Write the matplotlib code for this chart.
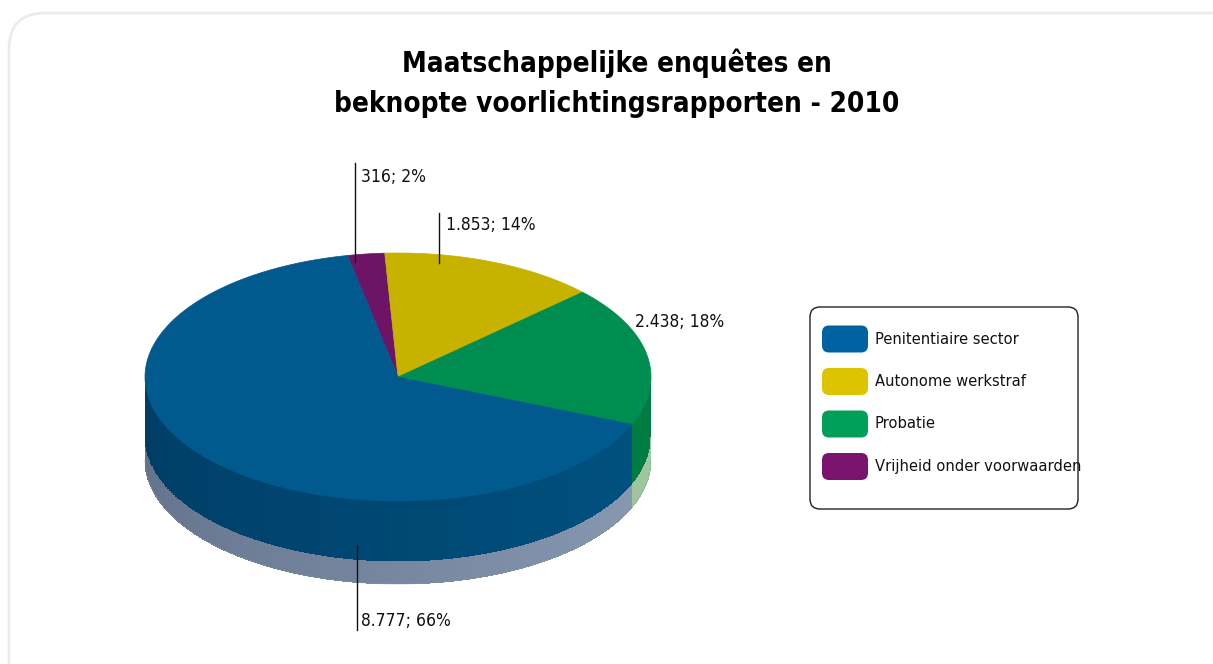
import numpy as np
import matplotlib
matplotlib.use("Agg")
import matplotlib.pyplot as plt
from matplotlib.patches import Polygon, FancyBboxPatch

# ---- data ----
categories = ["Penitentiaire sector", "Autonome werkstraf", "Probatie",
              "Vrijheid onder voorwaarden"]
values = [8777, 1853, 2438, 316]
title_lines = ["Maatschappelijke enquêtes en",
               "beknopte voorlichtingsrapporten - 2010"]

# ---- styling ----
top_colors = ["#005a8e", "#c8b200", "#008d50", "#6e1466"]
legend_colors = ["#0062a0", "#dcc400", "#00a05a", "#7a146e"]
wall_left = [(0, 60, 100), (150, 130, 0), (0, 100, 55), (80, 10, 70)]
wall_right = [(0, 84, 132), (180, 160, 0), (0, 126, 68), (100, 16, 90)]
band_left = [(98, 112, 138), (190, 180, 120), (140, 180, 140), (150, 120, 150)]
band_right = [(140, 158, 182), (210, 200, 140), (160, 200, 160), (170, 140, 170)]
slice_order = [3, 1, 2, 0]      # clockwise drawing order
start_angle = 101.5             # degrees, counter-clockwise from 3 o'clock

FONT = ["DejaVu Sans"]
STRETCH = "condensed"

W, H = 1213, 664
fig = plt.figure(figsize=(W / 100, H / 100), dpi=100)
ax = fig.add_axes([0, 0, 1, 1])
ax.set_xlim(0, W)
ax.set_ylim(H, 0)
ax.axis("off")

# outer rounded frame
ax.add_patch(FancyBboxPatch((9, 13), W + 40, H + 40,
                            boxstyle="round,pad=0,rounding_size=36",
                            fc="white", ec="#ebebeb", lw=2))

# ---- pie geometry ----
cx, cy, rx, ry = 398, 377, 253, 124
depth, band = 61, 22
total = float(sum(values))


def ex(t):
    return cx + rx * np.cos(np.radians(t))


def ey(t, off=0.0):
    return cy - ry * np.sin(np.radians(t)) + off


def mix(c1, c2, f):
    return tuple((a + (b - a) * f) / 255.0 for a, b in zip(c1, c2))


# angular extent of each slice (clockwise => decreasing angle)
spans = {}
a = start_angle
for i in slice_order:
    sweep = 360.0 * values[i] / total
    spans[i] = (a - sweep, a)
    a -= sweep


def strip(t0, t1, off0, off1, color):
    ts = np.linspace(t0, t1, 4)
    pts = list(zip(ex(ts), ey(ts, off0))) + \
        list(zip(ex(ts[::-1]), ey(ts[::-1], off1)))
    ax.add_patch(Polygon(pts, closed=True, fc=color, ec="none",
                         antialiased=False, zorder=2))


# side walls + lower band, drawn as overlapping strips for shading
for i, (a0, a1) in spans.items():
    edges = np.arange(a0, a1, 1.0).tolist() + [a1]
    for t, t2 in zip(edges[:-1], edges[1:]):
        tm = ((t + t2) / 2.0) % 360
        if tm <= 180:  # back half is hidden
            continue
        f = (tm - 180) / 180.0
        hi = min(t2 + 0.6, a1)
        strip(t, hi, 0, depth, mix(wall_left[i], wall_right[i], f))
        strip(t, hi, depth, depth + band, mix(band_left[i], band_right[i], f))

# soft outline of the lower silhouette for a smooth edge
ts = np.linspace(180, 360, 300)
ax.plot(ex(ts), ey(ts, depth + band), color=mix(band_left[0], band_right[2], 0.5),
        lw=0.6, alpha=0.5, zorder=2)

# top faces
for i, (a0, a1) in spans.items():
    ts = np.linspace(a0, a1, 200)
    pts = [(cx, cy)] + list(zip(ex(ts), ey(ts)))
    ax.add_patch(Polygon(pts, closed=True, fc=top_colors[i],
                         ec=top_colors[i], lw=0.5, zorder=3))


# ---- data labels ----
def fmt(v):
    return f"{v:,}".replace(",", ".") + f"; {round(100 * v / total)}%"


label_pos = {3: (361, 177), 1: (446, 225), 2: (635, 322), 0: (361, 621)}
leaders = {3: (355, 163, 262), 1: (439, 213, 263), 0: (357, 545, 630)}
for i in range(len(values)):
    x, y = label_pos[i]
    ax.text(x, y, fmt(values[i]), fontsize=12.5, family=FONT,
            fontstretch=STRETCH, ha="left", va="center", color="#111111",
            zorder=5)
    if i in leaders:
        lx, ly0, ly1 = leaders[i]
        ax.plot([lx, lx], [ly0, ly1], color="#111111", lw=1.0, zorder=5)

# ---- title ----
for k, line in enumerate(title_lines):
    ax.text(617, 63 + 41 * k, line, fontsize=20, fontweight="bold",
            family=FONT, fontstretch=STRETCH, ha="center", va="center",
            color="black", zorder=5)

# ---- legend ----
ax.add_patch(FancyBboxPatch((810, 307), 268, 202,
                            boxstyle="round,pad=0,rounding_size=10",
                            fc="white", ec="#222222", lw=1.0, zorder=4))
for k, name in enumerate(categories):
    yc = 339 + 42.5 * k
    ax.add_patch(FancyBboxPatch((822, yc - 13.5), 46, 27,
                                boxstyle="round,pad=0,rounding_size=7",
                                fc=legend_colors[k], ec="none", zorder=5))
    ax.text(875, yc, name, fontsize=11.8, family=FONT, fontstretch=STRETCH,
            ha="left", va="center", color="#111111", zorder=5)

fig.savefig("out.png", dpi=100)
